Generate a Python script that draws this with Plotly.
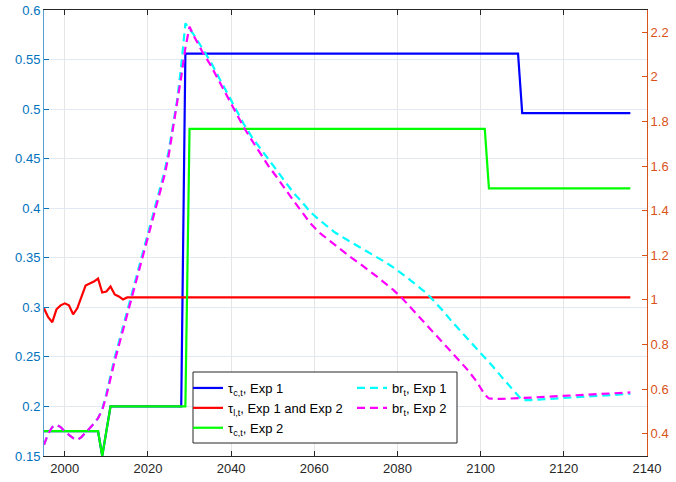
import plotly.graph_objects as go

# ---------------- data ----------------
tau_c1_years = [1995, 2008, 2009, 2010, 2011, 2028, 2029, 2109, 2110, 2136]
tau_c1_vals = [0.175, 0.175, 0.15, 0.175, 0.2, 0.2, 0.556, 0.556, 0.496, 0.496]

tau_c2_years = [1995, 2008, 2009, 2010, 2011, 2029, 2030, 2101, 2102, 2136]
tau_c2_vals = [0.175, 0.175, 0.15, 0.175, 0.2, 0.2, 0.48, 0.48, 0.42, 0.42]

tau_l_years = [1995, 1996, 1997, 1998, 1999, 2000, 2001, 2002, 2003, 2004, 2005,
               2006, 2007, 2008, 2009, 2010, 2011, 2012, 2013, 2014, 2015, 2016, 2136]
tau_l_vals = [0.299, 0.290, 0.285, 0.298, 0.302, 0.304, 0.302, 0.293, 0.299, 0.311, 0.322,
              0.324, 0.326, 0.329, 0.315, 0.316, 0.321, 0.313, 0.311, 0.308, 0.310, 0.310, 0.310]

br1_years = [1995, 1996, 1997, 1998, 1999, 2000, 2001, 2002, 2003, 2004, 2005, 2006, 2007,
             2008, 2009, 2010, 2011, 2012, 2014, 2016, 2018, 2020, 2022, 2023, 2024, 2025,
             2026, 2027, 2028, 2029, 2030, 2031, 2033, 2035, 2037, 2039, 2041, 2043, 2045,
             2047, 2049, 2051, 2053, 2055, 2057, 2059, 2061, 2063, 2065, 2067, 2069, 2071,
             2073, 2075, 2077, 2079, 2081, 2083, 2085, 2087, 2089, 2091, 2093, 2095, 2097,
             2099, 2101, 2103, 2105, 2107, 2109, 2110, 2112, 2116, 2120, 2124, 2128, 2132, 2136]
br1_vals = [0.35, 0.40, 0.43, 0.44, 0.43, 0.41, 0.395, 0.38, 0.372, 0.385, 0.405, 0.425, 0.445,
            0.47, 0.51, 0.58, 0.665, 0.742, 0.88, 1.018, 1.156, 1.294, 1.432, 1.502, 1.578, 1.67,
            1.78, 1.895, 2.05, 2.24, 2.215, 2.19, 2.13, 2.07, 2.00, 1.93, 1.86, 1.79, 1.73,
            1.68, 1.63, 1.58, 1.53, 1.48, 1.44, 1.395, 1.362, 1.33, 1.302, 1.279, 1.257, 1.236,
            1.216, 1.193, 1.17, 1.146, 1.12, 1.09, 1.06, 1.03, 0.99, 0.95, 0.905, 0.865, 0.825,
            0.785, 0.745, 0.70, 0.656, 0.612, 0.568, 0.55, 0.551, 0.555, 0.56, 0.565, 0.57, 0.574, 0.579]

br2_years = [1995, 1996, 1997, 1998, 1999, 2000, 2001, 2002, 2003, 2004, 2005, 2006, 2007,
             2008, 2009, 2010, 2011, 2012, 2014, 2016, 2018, 2020, 2022, 2023, 2024, 2025,
             2026, 2027, 2028, 2029, 2030, 2031, 2033, 2035, 2037, 2039, 2041, 2043, 2045,
             2047, 2049, 2051, 2053, 2055, 2057, 2059, 2061, 2063, 2065, 2067, 2069, 2071,
             2073, 2075, 2077, 2079, 2081, 2083, 2085, 2087, 2089, 2091, 2093, 2095, 2097,
             2099, 2100, 2101, 2102, 2105, 2110, 2115, 2120, 2125, 2130, 2136]
br2_vals = [0.35, 0.40, 0.43, 0.44, 0.43, 0.41, 0.395, 0.38, 0.372, 0.385, 0.405, 0.425, 0.445,
            0.47, 0.505, 0.57, 0.65, 0.726, 0.864, 1.002, 1.14, 1.278, 1.416, 1.485, 1.56, 1.65,
            1.76, 1.87, 2.00, 2.13, 2.225, 2.185, 2.115, 2.055, 1.985, 1.915, 1.845, 1.775, 1.715,
            1.655, 1.60, 1.55, 1.495, 1.445, 1.395, 1.345, 1.305, 1.275, 1.245, 1.215, 1.188, 1.162,
            1.135, 1.105, 1.075, 1.045, 1.01, 0.97, 0.93, 0.885, 0.845, 0.805, 0.765, 0.725, 0.683,
            0.635, 0.605, 0.575, 0.558, 0.556, 0.56, 0.565, 0.57, 0.574, 0.579, 0.585]

x_ticks = [2000, 2020, 2040, 2060, 2080, 2100, 2120, 2140]

FONT = "Helvetica, Arial, 'Liberation Sans', sans-serif"
DASH = "8px,5px"

fig = go.Figure()
fig.add_trace(go.Scatter(x=tau_c1_years, y=tau_c1_vals, mode="lines",
                         line=dict(color="#0000FF", width=2.2),
                         name="τ<sub>c,t</sub>, Exp 1", legend="legend"))
fig.add_trace(go.Scatter(x=tau_l_years, y=tau_l_vals, mode="lines",
                         line=dict(color="#FF0000", width=2.2),
                         name="τ<sub>l,t</sub>, Exp 1 and Exp 2", legend="legend"))
fig.add_trace(go.Scatter(x=tau_c2_years, y=tau_c2_vals, mode="lines",
                         line=dict(color="#00FF00", width=2.2),
                         name="τ<sub>c,t</sub>, Exp 2", legend="legend"))
fig.add_trace(go.Scatter(x=br1_years, y=br1_vals, mode="lines", yaxis="y2",
                         line=dict(color="#00FFFF", width=2.2, dash=DASH),
                         name="br<sub>t</sub>, Exp 1", legend="legend2"))
fig.add_trace(go.Scatter(x=br2_years, y=br2_vals, mode="lines", yaxis="y2",
                         line=dict(color="#FF00FF", width=2.2, dash=DASH),
                         name="br<sub>t</sub>, Exp 2", legend="legend2"))

# plot area pixels: left 44, right 647, top 10, bottom 456
def px_x(p):
    return (p - 44) / 603.0

def px_y(p):
    return (456 - p) / 446.0

fig.add_shape(type="rect", xref="paper", yref="paper",
              x0=px_x(193), x1=px_x(457), y0=px_y(443), y1=px_y(372),
              line=dict(color="#262626", width=1), fillcolor="white", layer="above")

legend_common = dict(xanchor="left", yanchor="top", bgcolor="rgba(0,0,0,0)",
                     borderwidth=0, font=dict(family=FONT, size=13, color="#000000"),
                     tracegroupgap=0, itemwidth=30)

fig.update_layout(
    width=676, height=482,
    margin=dict(l=44, r=29, t=10, b=26, pad=0, autoexpand=False),
    paper_bgcolor="white", plot_bgcolor="white",
    font=dict(family=FONT, size=13, color="#262626"),
    showlegend=True,
    legend=dict(x=px_x(188), y=px_y(373), **legend_common),
    legend2=dict(x=px_x(352), y=px_y(373), **legend_common),
    xaxis=dict(range=[1995, 2140.01], tickmode="array", tickvals=x_ticks,
               ticks="inside", ticklen=5, tickcolor="#262626", automargin=False,
               showline=True, linecolor="#262626", linewidth=1, mirror="ticks",
               showgrid=True, gridcolor="#e6e6e6", gridwidth=1, zeroline=False,
               tickfont=dict(color="#262626", size=13)),
    yaxis=dict(range=[0.15, 0.6], tick0=0.15, dtick=0.05, automargin=False,
               ticks="inside", ticklen=5, tickcolor="#0072BD",
               showline=True, linecolor="#5a9fd4", linewidth=1,
               showgrid=True, gridcolor="#e1eaf3", gridwidth=1, zeroline=False,
               tickfont=dict(color="#0072BD", size=13)),
    yaxis2=dict(range=[0.3, 2.3], tick0=0.4, dtick=0.2, overlaying="y", side="right",
                ticks="inside", ticklen=5, tickcolor="#D95319", automargin=False,
                showline=True, linecolor="#D95319", linewidth=1,
                showgrid=False, zeroline=False,
                tickfont=dict(color="#D95319", size=13)),
)

fig.write_html("out.html")
